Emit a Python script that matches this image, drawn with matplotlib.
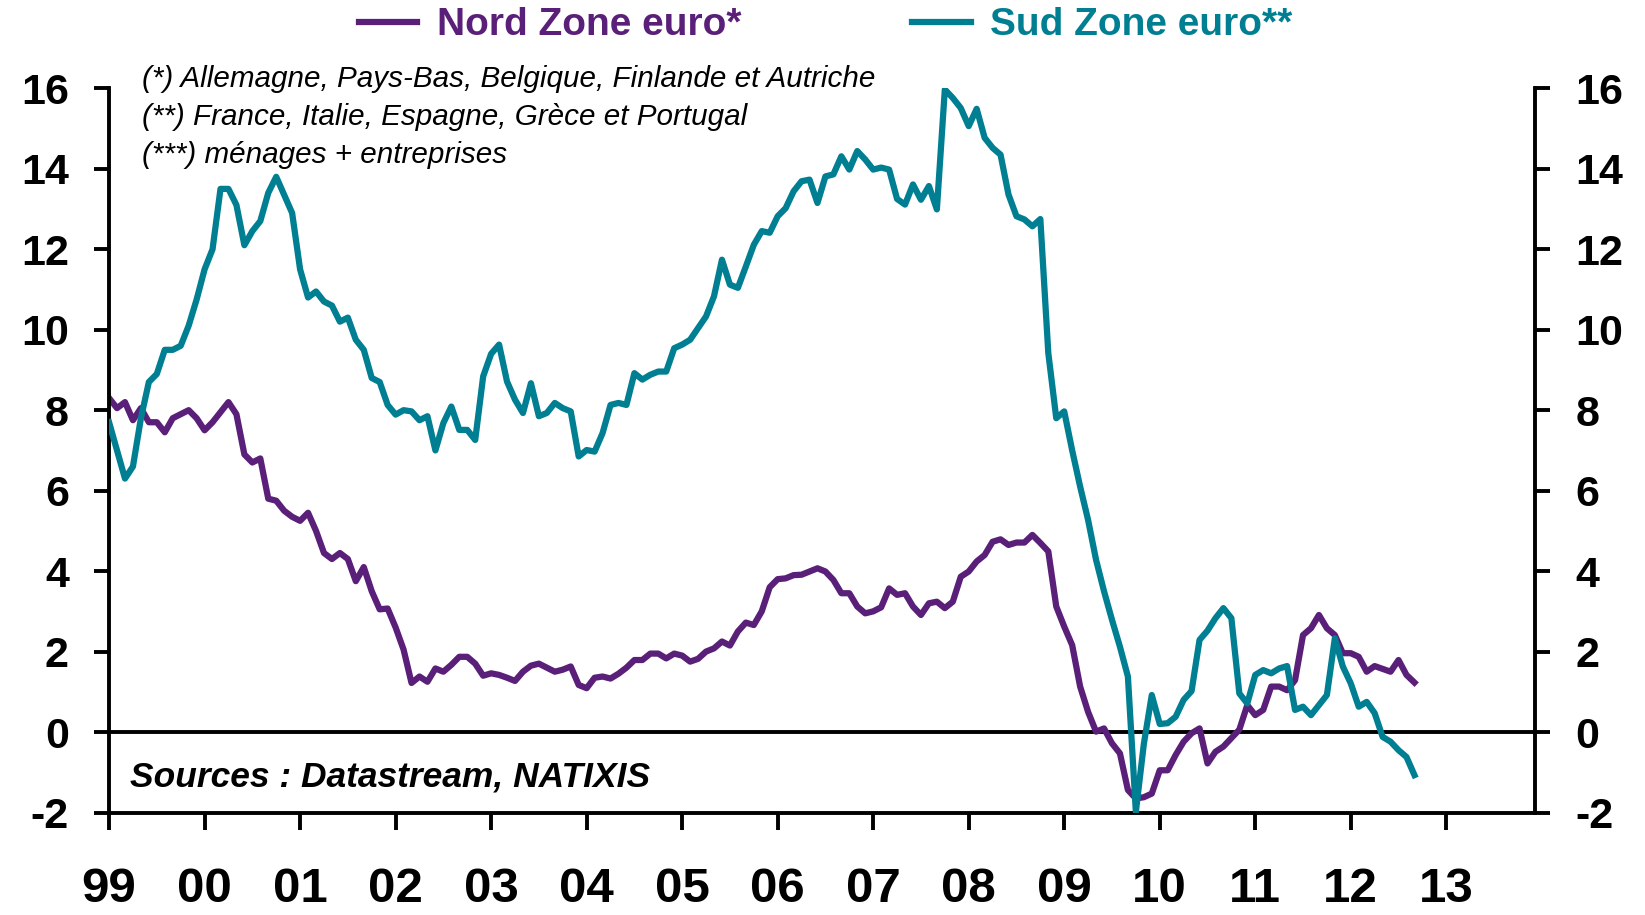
import matplotlib.pyplot as plt
import numpy as np

plt.rcParams['font.family'] = ['Liberation Sans', 'DejaVu Sans']

# monthly growth rates (%), Jan 1999 -> Sep 2012
start_year = 1999
nord = [
    8.3, 8.05, 8.2, 7.75, 8.05, 7.7, 7.7, 7.45, 7.8, 7.9, 8.0, 7.8,
    7.5, 7.7, 7.95, 8.2, 7.9, 6.9, 6.7, 6.8, 5.8, 5.75, 5.5, 5.35,
    5.25, 5.45, 5.0, 4.45, 4.3, 4.45, 4.3, 3.75, 4.1, 3.5, 3.05, 3.07,
    2.6, 2.05, 1.22, 1.38, 1.25, 1.58, 1.5, 1.67, 1.87, 1.87, 1.7, 1.4,
    1.46, 1.42, 1.35, 1.27, 1.5, 1.65, 1.7, 1.6, 1.5, 1.55, 1.63, 1.17,
    1.09, 1.35, 1.38, 1.33, 1.45, 1.6, 1.79, 1.79, 1.95, 1.95, 1.83, 1.95,
    1.9, 1.75, 1.82, 2.0, 2.08, 2.25, 2.15, 2.5, 2.72, 2.66, 3.0, 3.6,
    3.8, 3.82, 3.9, 3.91, 3.99, 4.07, 3.99, 3.78, 3.45, 3.45, 3.12, 2.95,
    3.0, 3.1, 3.57, 3.41, 3.45, 3.12, 2.91, 3.2, 3.24, 3.08, 3.24, 3.86,
    3.99, 4.24, 4.4, 4.73, 4.79, 4.65, 4.71, 4.71, 4.9, 4.7, 4.49, 3.12,
    2.62, 2.16, 1.13, 0.5, 0.01, 0.09, -0.28, -0.53, -1.44, -1.65, -1.62, -1.53,
    -0.95, -0.95, -0.57, -0.24, -0.03, 0.09, -0.78, -0.49, -0.36, -0.15, 0.06, 0.67,
    0.42, 0.55, 1.13, 1.13, 1.04, 1.29, 2.41, 2.58, 2.91, 2.58, 2.41, 1.96,
    1.96, 1.87, 1.5, 1.64, 1.57, 1.5, 1.79, 1.42, 1.23,
]
sud = [
    7.7, 7.0, 6.3, 6.6, 7.8, 8.7, 8.9, 9.5, 9.5, 9.6, 10.1, 10.75,
    11.5, 12.0, 13.5, 13.5, 13.1, 12.1, 12.45, 12.7, 13.4, 13.8, 13.35, 12.9,
    11.5, 10.8, 10.95, 10.7, 10.6, 10.2, 10.3, 9.75, 9.5, 8.8, 8.7, 8.13,
    7.89, 8.0, 7.97, 7.75, 7.85, 7.0, 7.68, 8.09, 7.51, 7.51, 7.26, 8.84,
    9.4, 9.63, 8.71, 8.26, 7.93, 8.67, 7.85, 7.93, 8.18, 8.05, 7.97, 6.85,
    7.01, 6.97, 7.43, 8.13, 8.18, 8.13, 8.92, 8.76, 8.88, 8.96, 8.96, 9.54,
    9.63, 9.75, 10.04, 10.33, 10.83, 11.74, 11.12, 11.04, 11.57, 12.11, 12.45, 12.41,
    12.82, 13.02, 13.44, 13.69, 13.73, 13.15, 13.81, 13.86, 14.31, 13.98, 14.44, 14.23,
    13.98, 14.03, 13.98, 13.25, 13.11, 13.61, 13.23, 13.57, 12.99, 15.97, 15.76, 15.51,
    15.06, 15.49, 14.77, 14.52, 14.35, 13.36, 12.82, 12.74, 12.57, 12.75, 9.42, 7.8,
    7.97, 7.0, 6.1, 5.27, 4.28, 3.5, 2.79, 2.12, 1.38, -1.98, -0.3, 0.92,
    0.2, 0.22, 0.38, 0.8, 1.02, 2.29, 2.52, 2.83, 3.08, 2.83, 0.96, 0.71,
    1.42, 1.54, 1.46, 1.58, 1.64, 0.55, 0.63, 0.42, 0.67, 0.92, 2.33, 1.63,
    1.21, 0.63, 0.75, 0.47, -0.12, -0.24, -0.45, -0.62, -1.07,
]
year_ticks = list(range(1999, 2014))
year_labels = ["99", "00", "01", "02", "03", "04", "05", "06", "07",
               "08", "09", "10", "11", "12", "13"]
y_ticks = [-2, 0, 2, 4, 6, 8, 10, 12, 14, 16]
footnotes = [
    "(*) Allemagne, Pays-Bas, Belgique, Finlande et Autriche",
    "(**) France, Italie, Espagne, Grèce et Portugal",
    "(***) ménages + entreprises",
]
source = "Sources : Datastream, NATIXIS"

PURPLE = "#5a1f78"
TEAL = "#007f93"

t = start_year + np.arange(len(nord)) / 12

fig = plt.figure(figsize=(16.45, 9.15), dpi=100)
ax = fig.add_axes([0.0663, 0.1120, 0.8669, 0.7915])

ax.axhline(0, color="black", lw=2.8, zorder=1)
ax.plot(t, nord, color=PURPLE, lw=4.5, label="Nord Zone euro*", zorder=2)
ax.plot(t, sud, color=TEAL, lw=4.5, label="Sud Zone euro**", zorder=3)

ax.set_xlim(1999, 2013.93)
ax.set_ylim(-2, 16)
ax.set_xticks(year_ticks)
ax.set_xticklabels(year_labels, fontsize=35.5, fontweight="bold")
ax.set_yticks(y_ticks)
ax.set_yticklabels([str(v) for v in y_ticks], fontsize=31, fontweight="bold")

ax.spines["top"].set_visible(False)
for s in ("left", "right", "bottom"):
    ax.spines[s].set_linewidth(2.8)
ax.tick_params(axis="y", which="both", direction="out", length=11, width=2.8,
               pad=18, left=True, right=True, labelleft=True, labelright=True)
ax.tick_params(axis="x", direction="out", length=12, width=2.8, pad=27)

# country footnotes above the plot
for i, line in enumerate(footnotes):
    fig.text(0.0861, 0.9052 - i * 0.0419, line, fontsize=21.3, style="italic",
             va="baseline", ha="left")

ax.text(0.0147, 0.036, source, transform=ax.transAxes, fontsize=25.5,
        fontweight="bold", style="italic", va="baseline", ha="left")

leg = fig.legend(loc="center", bbox_to_anchor=(0.502, 0.9725), ncol=2,
                 frameon=False, prop={"size": 28, "weight": "bold"},
                 labelcolor="linecolor", handlelength=1.5, handletextpad=0.5,
                 columnspacing=4.4, borderpad=0)

fig.savefig("out.png", dpi=100)
